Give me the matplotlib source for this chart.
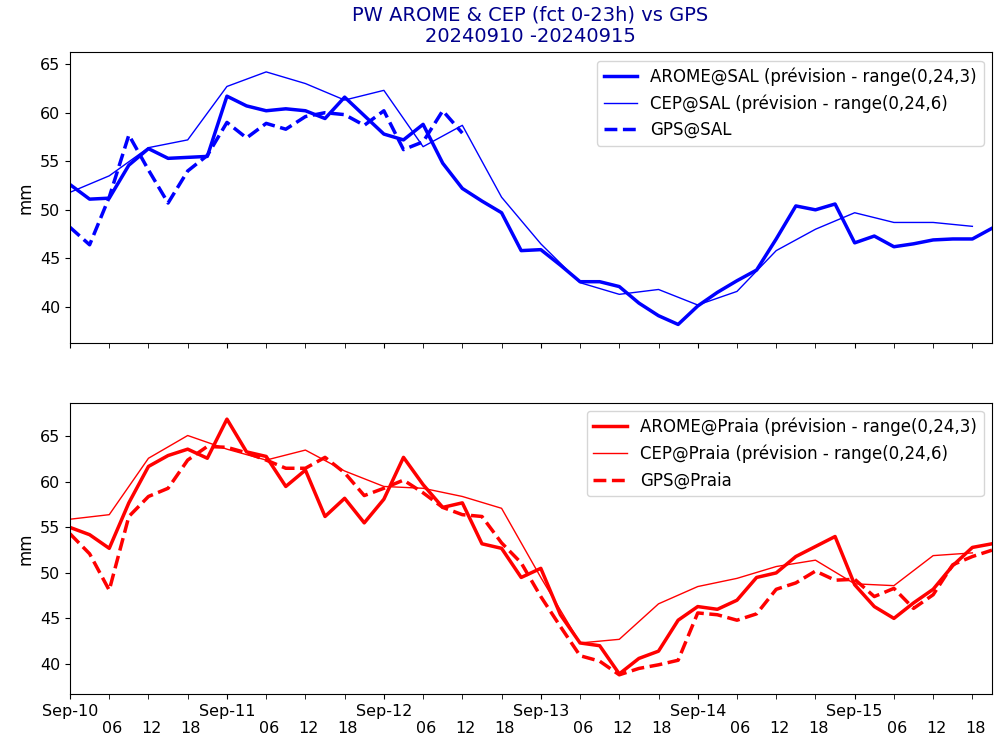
import numpy as np
import pandas as pd
import matplotlib
matplotlib.use("Agg")
import matplotlib.pyplot as plt
import matplotlib.dates as mdates
import matplotlib.transforms as mtransforms

# heures 3h (AROME, GPS) et 6h (CEP)
t3 = pd.date_range("2024-09-10 00:00", periods=48, freq="3h")
t6 = pd.date_range("2024-09-10 00:00", periods=24, freq="6h")

arome_sal = [52.6, 51.1, 51.2, 54.6, 56.3, 55.3, 55.4, 55.5, 61.7, 60.7, 60.2, 60.4,
             60.2, 59.4, 61.6, 59.7, 57.8, 57.2, 58.8, 54.8, 52.2, 50.9, 49.7, 45.8,
             45.9, 44.3, 42.6, 42.6, 42.1, 40.4, 39.1, 38.2, 40.1, 41.5, 42.7, 43.8,
             47.0, 50.4, 50.0, 50.6, 46.6, 47.3, 46.2, 46.5, 46.9, 47.0, 47.0, 48.1]
cep_sal = [51.8, 53.5, 56.4, 57.2, 62.7, 64.2, 63.0, 61.3, 62.3, 56.5, 58.7, 51.3,
           46.5, 42.5, 41.3, 41.8, 40.2, 41.6, 45.8, 48.0, 49.7, 48.7, 48.7, 48.3]
gps_sal = [48.2, 46.4, 51.3, 57.7, 54.1, 50.7, 54.0, 55.6, 59.0, 57.4, 58.9, 58.3,
           59.6, 60.0, 59.8, 58.7, 60.2, 56.2, 57.0, 60.2, 57.9]

arome_praia = [55.0, 54.2, 52.7, 57.7, 61.7, 62.9, 63.6, 62.6, 66.9, 63.3, 62.8, 59.5,
               61.3, 56.2, 58.2, 55.5, 58.1, 62.7, 59.7, 57.2, 57.7, 53.2, 52.7, 49.5,
               50.5, 45.4, 42.3, 42.0, 38.9, 40.6, 41.4, 44.8, 46.3, 46.0, 47.0, 49.5,
               50.0, 51.8, 52.9, 54.0, 48.7, 46.3, 45.0, 46.7, 48.2, 50.8, 52.8, 53.2]
cep_praia = [55.9, 56.4, 62.6, 65.1, 63.6, 62.4, 63.5, 61.2, 59.5, 59.3, 58.4, 57.1,
             49.5, 42.3, 42.7, 46.6, 48.5, 49.4, 50.7, 51.4, 48.8, 48.6, 51.9, 52.2]
gps_praia = [54.3, 52.1, 48.1, 56.2, 58.4, 59.3, 62.4, 63.9, 63.8, 63.2, 62.4, 61.5,
             61.5, 62.7, 61.0, 58.5, 59.3, 60.2, 58.8, 57.2, 56.4, 56.2, 53.3, 51.1,
             47.4, 44.1, 40.9, 40.3, 38.8, 39.5, 39.9, 40.4, 45.6, 45.4, 44.8, 45.5,
             48.2, 48.9, 50.2, 49.2, 49.3, 47.4, 48.3, 46.1, 47.6, 50.9, 51.8, 52.5]

stations = [("SAL", "b", arome_sal, cep_sal, gps_sal, (36.3, 66.2)),
            ("Praia", "r", arome_praia, cep_praia, gps_praia, (36.7, 68.7))]

fig = plt.figure(figsize=(10, 7.39), dpi=100)
ax1 = fig.add_axes([0.070, 0.536, 0.922, 0.393])
ax2 = fig.add_axes([0.070, 0.061, 0.922, 0.394], sharex=ax1)

for ax, (nom, c, aro, cep, gps, yl) in zip([ax1, ax2], stations):
    ax.plot(t3[:len(aro)], aro, color=c, lw=2.5,
            label=f"AROME@{nom} (prévision - range(0,24,3)")
    ax.plot(t6[:len(cep)], cep, color=c, lw=1,
            label=f"CEP@{nom} (prévision - range(0,24,6)")
    ax.plot(t3[:len(gps)], gps, color=c, lw=2.5, ls="--", label=f"GPS@{nom}")
    ax.set_ylim(*yl)
    ax.set_ylabel("mm", fontsize=12)
    ax.legend(loc="upper right", fontsize=12)
    ax.tick_params(labelsize=11.5)

ax1.set_xlim(t3[0], t3[-1])
ax2.xaxis.set_major_locator(mdates.DayLocator())
ax2.xaxis.set_major_formatter(mdates.DateFormatter("%b-%d"))
ax2.xaxis.set_minor_locator(mdates.HourLocator(byhour=[6, 12, 18]))
ax2.xaxis.set_minor_formatter(mdates.DateFormatter("%H"))
for ax in (ax1, ax2):
    ax.tick_params(axis="x", which="minor", length=3.5, pad=16, labelsize=11.5)
plt.setp(ax1.get_xticklabels(which="both"), visible=False)

# petit decalage des heures vers la droite
decal = mtransforms.ScaledTranslation(3 / 100, 0, fig.dpi_scale_trans)
for lab in ax2.get_xticklabels(which="minor"):
    lab.set_transform(lab.get_transform() + decal)

fig.text(0.53, 0.965, "PW AROME & CEP (fct 0-23h) vs GPS\n20240910 -20240915",
         ha="center", va="center", fontsize=14, color="darkblue")

fig.savefig("out.png", dpi=100)
